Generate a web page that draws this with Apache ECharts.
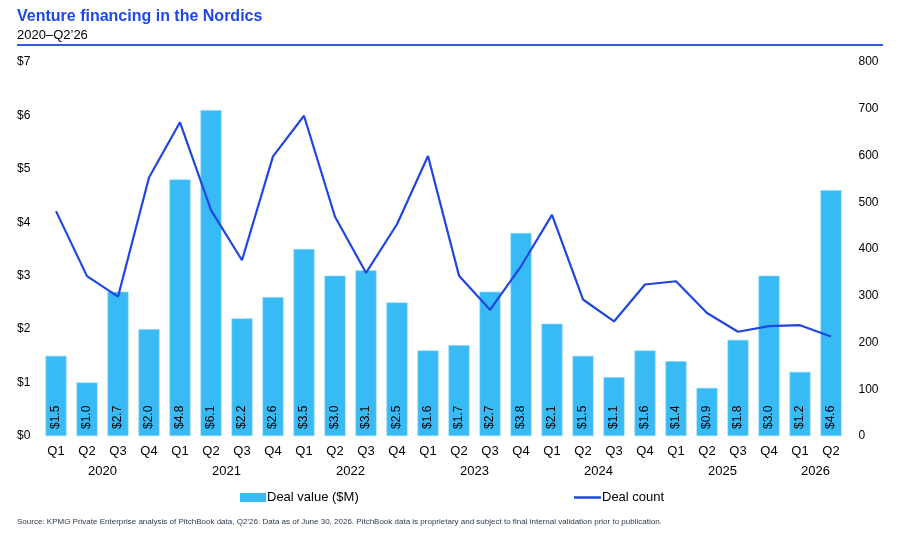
<!DOCTYPE html>
<html>
<head>
<meta charset="utf-8">
<script src="https://cdn.jsdelivr.net/npm/echarts@6/dist/echarts.min.js"></script>
<style>
html,body{margin:0;padding:0;background:#fff;}
#chart{width:902px;height:541px;}
</style>
</head>
<body>
<div id="chart"></div>
<script>
var quarters = ['Q1','Q2','Q3','Q4','Q1','Q2','Q3','Q4','Q1','Q2','Q3','Q4','Q1','Q2','Q3','Q4','Q1','Q2','Q3','Q4','Q1','Q2','Q3','Q4','Q1','Q2'];
var years = ['2020','2021','2022','2023','2024','2025','2026'];
var quartersPerYear = [4,4,4,4,4,4,2];
var dealValue = [1.5,1.0,2.7,2.0,4.8,6.1,2.2,2.6,3.5,3.0,3.1,2.5,1.6,1.7,2.7,3.8,2.1,1.5,1.1,1.6,1.4,0.9,1.8,3.0,1.2,4.6];
var dealCount = [481,342,298,553,671,483,376,598,685,469,349,453,599,343,270,363,473,292,245,324,331,263,223,235,237,213];
var leftTicks = ['$0','$1','$2','$3','$4','$5','$6','$7'];

// Year axis: half-slot positions (boundaryGap false, 2*N+1 entries), label at group centre
var yearSlots = [];
for (var i = 0; i <= quarters.length * 2; i++) yearSlots.push('');
var start = 0;
for (var y = 0; y < years.length; y++) {
  var centre = start + quartersPerYear[y] / 2; // in quarter units
  yearSlots[Math.round(centre * 2)] = years[y];
  start += quartersPerYear[y];
}

var FONT = '"Liberation Sans", Arial, sans-serif';
var BAR = '#38BAF5';
var LINE = '#1F47E0';
var chart = echarts.init(document.getElementById('chart'), null, {renderer: 'canvas'});
chart.setOption({
  backgroundColor: '#ffffff',
  textStyle: {fontFamily: FONT},
  title: {
    text: 'Venture financing in the Nordics',
    subtext: '2020\u2013Q2\u201926',
    left: 12,
    top: 4,
    itemGap: 4,
    textStyle: {fontFamily: FONT, fontSize: 16, fontWeight: 'bold', color: '#1E49E2'},
    subtextStyle: {fontFamily: FONT, fontSize: 13, color: '#000000'}
  },
  graphic: [
    {type: 'line', shape: {x1: 17, y1: 45, x2: 883, y2: 45}, style: {stroke: '#2F5BE6', lineWidth: 2}},
    {type: 'text', left: 17, top: 518, style: {text: 'Source: KPMG Private Enterprise analysis of PitchBook data, Q2\u201926. Data as of June 30, 2026. PitchBook data is proprietary and subject to final internal validation prior to publication.', font: '8px "Liberation Sans", Arial, sans-serif', fill: '#2b3a4a'}}
  ],
  legend: [
    {
      left: 240,
      top: 491,
      padding: 0,
      itemWidth: 26,
      itemHeight: 9,
      itemStyle: {borderWidth: 0, color: BAR},
      textStyle: {fontFamily: FONT, fontSize: 13, color: '#000', padding: [0, 0, 0, -4]},
      data: [{name: 'Deal value ($M)', icon: 'rect'}]
    },
    {
      left: 574,
      top: 491,
      padding: 0,
      itemWidth: 27,
      itemHeight: 2.5,
      itemStyle: {borderWidth: 0, color: LINE},
      textStyle: {fontFamily: FONT, fontSize: 13, color: '#000', padding: [0, 0, 0, -4]},
      data: [{name: 'Deal count', icon: 'rect'}]
    }
  ],
  grid: {left: 40.5, right: 55.5, top: 62, bottom: 105, containLabel: false},
  xAxis: [
    {
      type: 'category',
      data: quarters,
      axisLine: {show: false},
      axisTick: {show: false},
      axisLabel: {interval: 0, margin: 9, fontSize: 13, color: '#000', fontFamily: FONT}
    },
    {
      type: 'category',
      position: 'bottom',
      offset: 20,
      boundaryGap: false,
      data: yearSlots,
      axisLine: {show: false},
      axisTick: {show: false},
      splitLine: {show: false},
      axisLabel: {interval: 0, margin: 9, fontSize: 13, color: '#000', fontFamily: FONT}
    }
  ],
  yAxis: [
    {
      type: 'value',
      min: 0, max: 7, interval: 1,
      splitLine: {show: false},
      axisLine: {show: false},
      axisTick: {show: false},
      axisLabel: {
        align: 'left', margin: 23.5, fontSize: 12, color: '#000', fontFamily: FONT,
        formatter: function (v) { return leftTicks[v]; }
      }
    },
    {
      type: 'value',
      min: 0, max: 800, interval: 100,
      splitLine: {show: false},
      axisLine: {show: false},
      axisTick: {show: false},
      axisLabel: {align: 'left', margin: 12, fontSize: 12, color: '#000', fontFamily: FONT}
    }
  ],
  series: [
    {
      name: 'Deal value ($M)',
      type: 'bar',
      xAxisIndex: 0,
      yAxisIndex: 0,
      data: dealValue,
      barWidth: 21,
      itemStyle: {color: BAR, borderColor: '#8AD5F7', borderWidth: 0.6},
      label: {
        show: true,
        position: 'insideBottom',
        rotate: 90,
        align: 'left',
        verticalAlign: 'middle',
        distance: 7,
        fontSize: 12,
        color: '#000',
        fontFamily: FONT,
        formatter: function (p) { return '$' + p.value.toFixed(1); }
      },
      z: 2
    },
    {
      name: 'Deal count',
      type: 'line',
      xAxisIndex: 0,
      yAxisIndex: 1,
      data: dealCount,
      symbol: 'none',
      lineStyle: {color: LINE, width: 2.2},
      itemStyle: {color: LINE},
      z: 3
    }
  ],
  animation: false
});
</script>
</body>
</html>
